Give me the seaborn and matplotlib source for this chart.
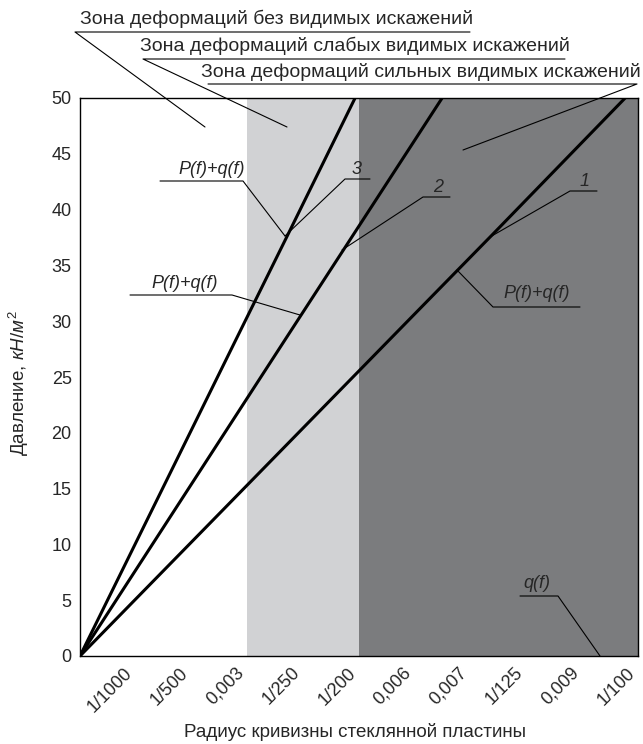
import matplotlib.pyplot as plt
import matplotlib.transforms as mtransforms
import seaborn as sns
import pandas as pd
from matplotlib.lines import Line2D

# x axis: curvature of the glass plate, drawn on a uniform scale (positions 1..10)
tick_labels = ["1/1000", "1/500", "0,003", "1/250", "1/200",
               "0,006", "0,007", "1/125", "0,009", "1/100"]
tick_pos = list(range(1, 11))
y_ticks = [0, 5, 10, 15, 20, 25, 30, 35, 40, 45, 50]

# deformation zones, in tick positions
zone_weak = (3, 5)
zone_strong = (5, 10)

# curves P(f)+q(f), pressure kN/m2 against tick position
curve1_x = [0, 5.91, 7.38, 9.77]
curve1_y = [0, 30.2, 37.7, 50]
curve2_x = [0, 3.67, 4.71, 6.49]
curve2_y = [0, 28.3, 36.3, 50]
curve3_x = [0, 2.78, 3.71, 4.93]
curve3_y = [0, 28.2, 37.6, 50]

df = pd.concat([
    pd.DataFrame({"x": curve1_x, "y": curve1_y, "curve": "1"}),
    pd.DataFrame({"x": curve2_x, "y": curve2_y, "curve": "2"}),
    pd.DataFrame({"x": curve3_x, "y": curve3_y, "curve": "3"}),
])

sns.set_style("white")
plt.rcParams["font.family"] = ["Liberation Sans", "DejaVu Sans"]
plt.rcParams["mathtext.fontset"] = "custom"
plt.rcParams["mathtext.rm"] = "Liberation Sans"
plt.rcParams["mathtext.it"] = "Liberation Sans:italic"

W, H = 643, 744
fig = plt.figure(figsize=(W / 100, H / 100), dpi=100)
ax = fig.add_axes([80 / W, 88 / H, 558 / W, 558 / H])

ax.axvspan(*zone_weak, color="#d1d2d4", lw=0, zorder=0)
ax.axvspan(*zone_strong, color="#7b7c7e", lw=0, zorder=0)

sns.lineplot(data=df, x="x", y="y", hue="curve", units="curve", estimator=None,
             sort=False, palette=["black"] * 3, lw=2.2, legend=False, ax=ax)

ax.set_xlim(0, 10)
ax.set_ylim(0, 50)
ax.set_xticks(tick_pos)
ax.set_xticklabels(tick_labels, rotation=45, ha="right", va="top", fontsize=13)
shift = mtransforms.ScaledTranslation(-13 / 100, 0, fig.dpi_scale_trans)
for t in ax.get_xticklabels():
    t.set_transform(t.get_transform() + shift)
ax.set_yticks(y_ticks)
ax.tick_params(axis="y", direction="in", length=10, width=1, pad=6, labelsize=13)
ax.tick_params(axis="x", direction="in", length=10, width=1, pad=6)
for s in ax.spines.values():
    s.set_color("black")
    s.set_linewidth(1)
ax.set_xlabel("")
ax.set_ylabel("")

narrow = ["Liberation Sans Narrow", "Liberation Sans", "DejaVu Sans"]
fig.text(355 / W, 1 - 732 / H, "Радиус кривизны стеклянной пластины",
         ha="center", va="center", fontsize=13.5, family=narrow)
fig.text(19 / W, 1 - 383 / H, r"Давление, $\mathit{кН/м}^{2}$",
         ha="center", va="center", rotation=90, fontsize=13.5)


def leader(points, lw=0.8):
    xs = [p[0] / W for p in points]
    ys = [1 - p[1] / H for p in points]
    fig.add_artist(Line2D(xs, ys, transform=fig.transFigure, color="black", lw=lw))


def label(px, py, s, size=14, italic=False, fam=None):
    fig.text(px / W, 1 - py / H, s, ha="center", va="center", fontsize=size,
             style="italic" if italic else "normal", family=fam or narrow)


# zone captions
label(277, 19, "Зона деформаций без видимых искажений")
leader([(470, 32), (75, 32), (205, 127)])
label(355, 46, "Зона деформаций слабых видимых искажений")
leader([(565, 59), (143, 59), (287, 127)])
label(421, 72, "Зона деформаций сильных видимых искажений")
leader([(208, 84), (637, 84), (463, 150)])

# curve labels
ital = ["Liberation Sans"]
label(212, 169, "P(f)+q(f)", 13, True, ital)
leader([(160, 181), (243, 181), (285, 236)])
label(357, 169, "3", 13, True, ital)
leader([(370, 179), (345, 179), (285, 236)])
label(438, 188, "2", 13, True, ital)
leader([(450, 197), (423, 197), (342, 250)])
label(585, 181, "1", 13, True, ital)
leader([(597, 191), (570, 191), (490, 237)])
label(537, 293, "P(f)+q(f)", 13, True, ital)
leader([(580, 307), (493, 307), (457, 270)])
label(185, 284, "P(f)+q(f)", 13, True, ital)
leader([(130, 295), (232, 295), (300, 315)])
label(537, 584, "q(f)", 13, True, ital)
leader([(520, 596), (558, 596), (600, 656)])

fig.savefig("out.png", dpi=100)
